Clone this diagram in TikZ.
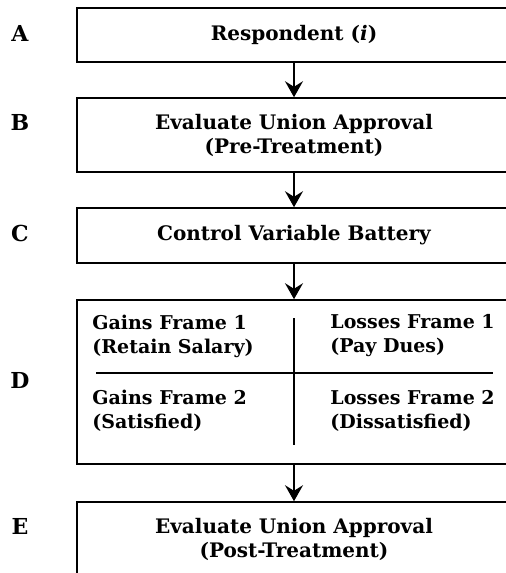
\documentclass[tikz,border=0pt]{standalone}
\usepackage{fontspec}
\setmainfont{DejaVu Serif}
\usetikzlibrary{arrows.meta}

\begin{document}
\begin{tikzpicture}[
  x=0.5pt,
  y=-0.5pt,
  every node/.style={font=\bfseries\fontsize{10}{12}\selectfont, black},
  stage/.style={draw, line width=0.8pt, minimum width=217pt, inner sep=0pt, align=center},
  flow/.style={line width=0.8pt, -{Stealth[length=8pt, width=9pt, inset=2.8pt]}},
  divider/.style={line width=0.6pt},
  frame/.style={anchor=west, align=left, inner sep=0pt,
    font=\bfseries\fontsize{9.5}{12}\selectfont},
  letter/.style={font=\bfseries\fontsize{11}{12}\selectfont}
]
  % ---- page: the boxes run off the right and bottom edges --------------
  \useasboundingbox (0,0) rectangle (506,573);
  \clip (0,0) rectangle (506,573);

  % ---- the five stages -------------------------------------------------
  \node[stage, minimum height=27pt] (resp) at (294,35) {Respondent (\textit{i})};
  \node[stage, minimum height=37pt] (pre) at (294,135)
    {Evaluate Union Approval\\(Pre-Treatment)};
  \node[stage, minimum height=27.5pt] (ctrl) at (294,235.5)
    {Control Variable Battery};
  \node[stage, minimum height=82pt] (frames) at (294,382) {};
  \node[stage, minimum height=37pt] (post) at (294,539)
    {Evaluate Union Approval\\(Post-Treatment)};

  % ---- the four frames -------------------------------------------------
  \draw[divider] (96,373) -- (493,373);
  \draw[divider] (294,318) -- (294,445);
  \node[frame] (gain1) at (92,336) {Gains Frame 1\\(Retain Salary)};
  \node[frame] (loss1) at (330,336) {Losses Frame 1\\(Pay Dues)};
  \node[frame] (gain2) at (92,411) {Gains Frame 2\\(Satisfied)};
  \node[frame] (loss2) at (330,411) {Losses Frame 2\\(Dissatisfied)};

  % ---- arrows ----------------------------------------------------------
  \draw[flow] (resp) -- (pre);
  \draw[flow] (pre) -- (ctrl);
  \draw[flow] (ctrl) -- (frames);
  \draw[flow] (frames) -- (post);

  % ---- stage letters ---------------------------------------------------
  \node[letter] (la) at (20,33) {A};
  \node[letter] (lb) at (20,122) {B};
  \node[letter] (lc) at (20,233) {C};
  \node[letter] (ld) at (20,380) {D};
  \node[letter] (le) at (20,526) {E};
\end{tikzpicture}
\end{document}
